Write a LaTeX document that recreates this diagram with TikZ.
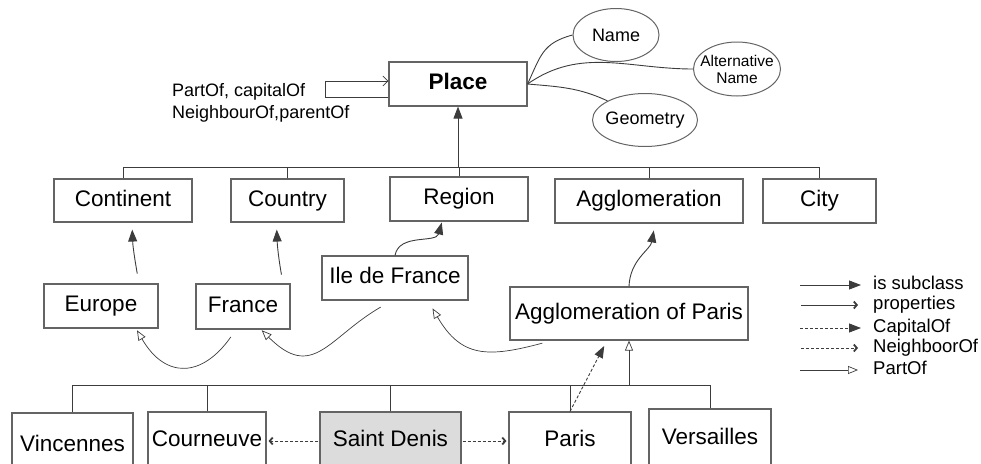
\documentclass[tikz,border=0pt]{standalone}
\usepackage{fontspec}
\setmainfont{Liberation Sans}
\usetikzlibrary{arrows.meta, shapes.geometric, positioning}
\definecolor{linegray}{RGB}{60,60,60}
\definecolor{boxgray}{RGB}{100,100,100}
\definecolor{sdfill}{RGB}{220,220,220}

\begin{document}
\begin{tikzpicture}[x=1pt, y=-1pt,
    cls/.style={rectangle, draw=boxgray, line width=1.1pt, inner sep=0pt, font=\fontsize{22.5}{24}\selectfont, text height=15pt, text depth=4pt},
    attr/.style={ellipse, draw=boxgray, line width=1pt, inner sep=0pt, align=center, font=\fontsize{18}{19}\selectfont},
    lgd/.style={anchor=west, inner sep=0pt, font=\fontsize{18.5}{20}\selectfont, text height=9pt, text depth=0pt},
    conn/.style={draw=linegray, line width=0.9pt},
    subarr/.style={conn, -{Triangle[length=12pt,width=9pt]}},
    proparr/.style={conn, -{Straight Barb[length=3pt,width=7pt,line width=1.8pt]}},
    caparr/.style={subarr, dash pattern=on 3pt off 2pt},
    nbarr/.style={proparr, dash pattern=on 3pt off 2pt},
    partarr/.style={conn, line width=0.7pt, -{Triangle[open,length=10pt,width=8pt]}},
    selfarr/.style={conn, line width=0.7pt, -{Straight Barb[length=5pt,width=10pt]}},
]
\useasboundingbox (0,0) rectangle (981,463);
\clip (0,0) rectangle (981,463);

% top class and its attributes
\node[cls, minimum width=138pt, minimum height=44pt, font=\fontsize{22.5}{24}\selectfont\bfseries] (place) at (458,84) {Place};
\node[attr, minimum width=86pt, minimum height=53pt] (name) at (616,35) {Name};
\node[attr, minimum width=87pt, minimum height=54pt, inner xsep=-9pt, font=\fontsize{15.5}{17}\selectfont] (alt) at (737,69) {Alternative\\Name};
\node[attr, minimum width=105pt, minimum height=53pt, inner xsep=-3pt] (geo) at (645,120) {Geometry};
\node[anchor=west, inner sep=0pt, align=left, font=\fontsize{18}{22}\selectfont] (rels) at (172,103) {PartOf, capitalOf\\NeighbourOf,parentOf};

\draw[conn] (place.east) to[out=65,in=195,looseness=1.2] (name.west);
\draw[conn] (place.east) to[out=35,in=180] (alt.west);
\draw[conn] (place.east) to[out=-5,in=155] (geo.north west);
\draw[selfarr] ([yshift=-13pt]place.west) -- ++(-63,0) -- ++(0,-16) -- ([yshift=3pt]place.west);

% subclasses
\node[cls, minimum width=138pt, minimum height=43pt] (cont) at (123,200.5) {Continent};
\node[cls, minimum width=113pt, minimum height=43pt] (ctry) at (287.5,200.5) {Country};
\node[cls, minimum width=138pt, minimum height=44pt] (reg) at (459,199) {Region};
\node[cls, minimum width=188pt, minimum height=44pt] (agg) at (649,201) {Agglomeration};
\node[cls, minimum width=113pt, minimum height=44pt] (city) at (819.5,201) {City};
\coordinate (bus) at (458,167);

\draw[subarr] (bus) -- (place.south);
\draw[conn] (cont.north) |- (city.north |- bus) -- (city.north);
\draw[conn] (ctry.north) -- (ctry.north |- bus);
\draw[conn] (reg.north) -- (reg.north |- bus);
\draw[conn] (agg.north) -- (agg.north |- bus);

% instances
\node[cls, minimum width=114pt, minimum height=44pt] (eur) at (101,306) {Europe};
\node[cls, minimum width=94pt, minimum height=45pt] (fr) at (243,306.5) {France};
\node[cls, minimum width=146pt, minimum height=44pt] (ile) at (395,278) {Ile de France};
\node[cls, minimum width=238pt, minimum height=53pt] (aggp) at (629,313.5) {Agglomeration of Paris};

\draw[subarr, shorten <=10pt, shorten >=7pt] ([xshift=38pt]eur.north) to[out=100,in=-88] ([xshift=9pt]cont.south);
\draw[subarr, shorten <=9pt, shorten >=7pt] ([xshift=40pt]fr.north) to[out=100,in=-88] ([xshift=-11pt]ctry.south);
\draw[subarr, shorten >=1pt] (ile.north) to[out=80,in=-105] ([xshift=-17pt]reg.south);
\draw[subarr, shorten >=7pt] (aggp.north) to[out=88,in=-100] ([xshift=6pt]agg.south);

\draw[partarr, shorten <=9pt, shorten >=2pt] ([xshift=-7pt]fr.south) to[out=-125,in=-60,looseness=1.5] ([xshift=35pt]eur.south);
\draw[partarr, shorten <=13pt, shorten >=1pt] ([xshift=-3pt]ile.south) to[out=-150,in=-45,looseness=1.4] ([xshift=18pt]fr.south);
\draw[partarr, shorten <=10pt, shorten >=9pt] ([xshift=-77pt]aggp.south) to[out=-165,in=-60,looseness=1.3] ([xshift=33pt]ile.south);

% communes
\node[cls, minimum width=121pt, minimum height=66pt] (vinc) at (72.5,446) {Vincennes};
\node[cls, minimum width=118pt, minimum height=58pt] (cour) at (207,441) {Courneuve};
\node[cls, minimum width=141pt, minimum height=58pt, fill=sdfill] (sd) at (390.5,441) {Saint Denis};
\node[cls, minimum width=122pt, minimum height=58pt] (paris) at (570,441) {Paris};
\node[cls, minimum width=122pt, minimum height=60pt] (vers) at (710,439) {Versailles};
\coordinate (bus2) at (629,385);

\draw[partarr] (bus2) -- (aggp.south);
\draw[conn] (vinc.north) |- (vers.north |- bus2) -- (vers.north);
\draw[conn] (cour.north) -- (cour.north |- bus2);
\draw[conn] (sd.north) -- (sd.north |- bus2);
\draw[conn] (paris.north) -- (paris.north |- bus2);

\draw[nbarr, shorten <=1pt, shorten >=2pt] (sd.west) -- (cour.east);
\draw[nbarr, shorten <=1pt, shorten >=2pt] (sd.east) -- (paris.west);
\draw[caparr, shorten >=6pt] (paris.north) -- ([xshift=-22pt]aggp.south);

% legend
\node[lgd] (lsub) at (873,285) {is subclass};
\node[lgd] (lprop) at (873,305) {properties};
\node[lgd] (lcap) at (873,328) {CapitalOf};
\node[lgd] (lnb) at (873,348) {NeighboorOf};
\node[lgd] (lpart) at (873,370) {PartOf};

\draw[subarr] ([xshift=-73pt]lsub.west) -- ([xshift=-12pt]lsub.west);
\draw[proparr] ([xshift=-72pt]lprop.west) -- ([xshift=-15pt]lprop.west);
\draw[caparr] ([xshift=-73pt]lcap.west) -- ([xshift=-12pt]lcap.west);
\draw[nbarr] ([xshift=-72pt]lnb.west) -- ([xshift=-15pt]lnb.west);
\draw[partarr] ([xshift=-73pt]lpart.west) -- ([xshift=-15pt]lpart.west);
\end{tikzpicture}
\end{document}
